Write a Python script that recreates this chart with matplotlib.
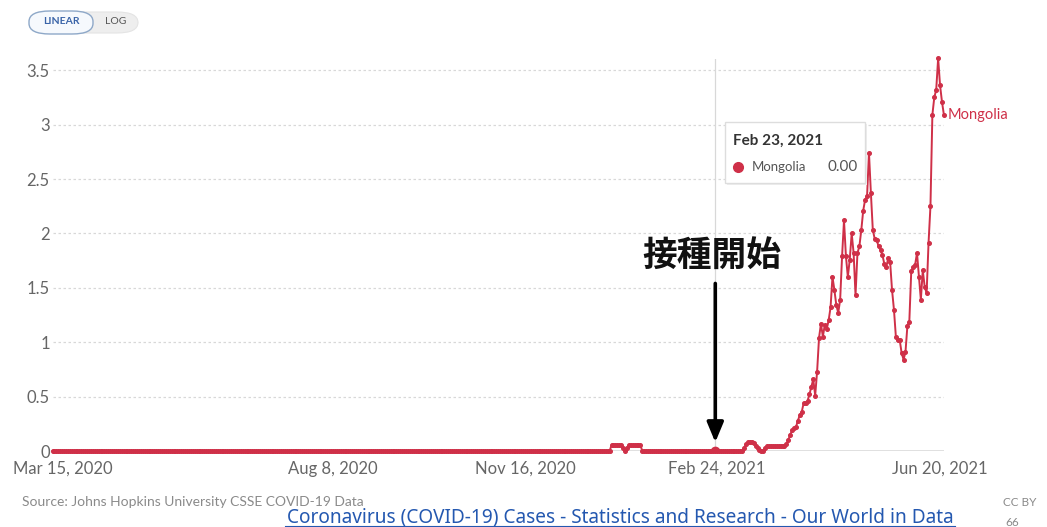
import numpy as np
import matplotlib
matplotlib.use('Agg')
import matplotlib.pyplot as plt
from matplotlib.patches import FancyBboxPatch, Rectangle
from matplotlib.lines import Line2D
from matplotlib.transforms import ScaledTranslation

W, H = 1047, 527

# daily new cases per million, Mongolia (7-day avg)
start_date = '2020-03-15'
zeros_early = [0.0] * 291
bump_dec = [0.055, 0.055, 0.055, 0.055, 0.055, 0.055, 0.03, 0.0,
            0.03, 0.055, 0.055, 0.055, 0.055, 0.055, 0.055, 0.055]
zeros_mid = [0.0] * 53
bump_mar = [0.03, 0.06, 0.08, 0.085, 0.085, 0.07, 0.05, 0.03, 0.01, 0.0, 0.0, 0.03]
plateau = [0.045, 0.045, 0.045, 0.045, 0.045, 0.045, 0.045, 0.045, 0.045, 0.045]
wave = [0.06, 0.10, 0.15, 0.19, 0.21, 0.22, 0.28, 0.33, 0.36, 0.44,
        0.44, 0.46, 0.52, 0.59, 0.66, 0.51, 0.73, 1.04, 1.17, 1.05,
        1.16, 1.12, 1.20, 1.32, 1.60, 1.48, 1.34, 1.27, 1.39, 1.79,
        2.12, 1.79, 1.60, 1.76, 2.00, 1.82, 1.43, 1.82, 1.88, 2.03,
        2.21, 2.31, 2.34, 2.74, 2.37, 2.03, 1.95, 1.94, 1.88, 1.85,
        1.80, 1.72, 1.69, 1.77, 1.74, 1.48, 1.30, 1.05, 1.02, 1.02,
        0.90, 0.84, 0.91, 1.15, 1.19, 1.65, 1.69, 1.71, 1.82, 1.60,
        1.39, 1.66, 1.51, 1.45, 1.91, 2.25, 3.09, 3.25, 3.32, 3.61,
        3.36, 3.21, 3.09]
cases = zeros_early + bump_dec + zeros_mid + bump_mar + plateau + wave
dates = np.datetime64(start_date) + np.arange(len(cases))

tick_dates = np.array(['2020-03-15', '2020-08-08', '2020-11-16', '2021-02-24', '2021-06-20'],
                      dtype='datetime64[D]')
tick_labels = ['Mar 15, 2020', 'Aug 8, 2020', 'Nov 16, 2020', 'Feb 24, 2021', 'Jun 20, 2021']
y_ticks = [0, 0.5, 1, 1.5, 2, 2.5, 3, 3.5]
y_labels = ['0', '0.5', '1', '1.5', '2', '2.5', '3', '3.5']
hover_date = np.datetime64('2021-02-23')
hover_value = '0.00'
country = 'Mongolia'

RED = '#cf3048'
plt.rcParams['font.family'] = ['Lato', 'DejaVu Sans']


def px(x, y):
    return x / W, 1 - y / H


fig = plt.figure(figsize=(W / 100, H / 100), dpi=100)
ax = fig.add_axes([52.5 / W, (H - 451) / H, (943.9 - 52.5) / W, 3.6 * 108.8 / H])

ax.set_xlim(np.datetime64('2020-03-15'), np.datetime64('2021-06-22'))
ax.set_ylim(0, 3.6)
for s in ax.spines.values():
    s.set_visible(False)

for yv in y_ticks[1:]:
    ax.axhline(yv, color='#d8d8d8', lw=0.9, ls=(0, (2, 2)), zorder=0)
ax.axhline(0, color='#dddddd', lw=2, zorder=1)

ax.axvline(hover_date, color='#d8d8d8', lw=0.9, zorder=1)

ax.plot(dates, cases, color=RED, lw=1.4, marker='o', ms=2.6,
        clip_on=False, zorder=3)
ax.plot([hover_date], [0], 'o', color=RED, ms=6, zorder=4)

ax.text(dates[-1], cases[-1], country, color=RED, fontsize=10.5,
        va='center', ha='left', transform=ax.transData + ScaledTranslation(4 / 100, 0, fig.dpi_scale_trans))

ax.set_yticks(y_ticks)
ax.set_yticklabels(y_labels)
ax.set_xticks(tick_dates)
ax.set_xticklabels(tick_labels)
ax.tick_params(axis='both', length=0, labelsize=12, labelcolor='#666666')
ax.tick_params(axis='x', pad=7)
ax.tick_params(axis='y', pad=2)
first = ax.get_xticklabels()[0]
first.set_transform(first.get_transform() + ScaledTranslation(10 / 100, 0, fig.dpi_scale_trans))

# vaccination start annotation
ax.annotate('', xy=(hover_date, 0.08), xytext=(hover_date, 1.54),
            arrowprops=dict(arrowstyle='-|>,head_length=0.6,head_width=0.25',
                            lw=2.6, color='black', mutation_scale=20,
                            shrinkA=0, shrinkB=0), zorder=5)
ax.text(hover_date - np.timedelta64(2, 'D'), 1.80, '接種開始', fontsize=25,
        fontweight='bold', ha='center', va='center',
        family=['Noto Sans CJK JP', 'DejaVu Sans'], color='#111111')

# tooltip
fig.add_artist(Rectangle(px(727, 185), 140 / W, 61 / H, transform=fig.transFigure,
                         fc='#eeeeee', ec='none', zorder=6))
fig.add_artist(Rectangle(px(725, 183), 140 / W, 61 / H, transform=fig.transFigure,
                         fc='white', ec='#dddddd', lw=1, zorder=7))
fig.text(*px(733, 141), 'Feb 23, 2021', fontsize=11, fontweight='bold',
         color='#333333', va='center', zorder=8)
fig.add_artist(Line2D([738 / W], [1 - 167 / H], marker='o', ms=7, color=RED,
                      transform=fig.transFigure, zorder=8))
fig.text(*px(752, 167), country, fontsize=9.5, color='#555555', va='center', zorder=8)
fig.text(*px(858, 167), hover_value, fontsize=11, color='#555555', va='center',
         ha='right', zorder=8)

# LINEAR / LOG toggle
fig.add_artist(FancyBboxPatch(px(30, 33), 108 / W, 21 / H, transform=fig.transFigure,
                              boxstyle='round,pad=0,rounding_size=0.02',
                              fc='#eeeeee', ec='#e4e4e4', lw=0.8))
fig.add_artist(FancyBboxPatch(px(29, 34), 64 / W, 23 / H, transform=fig.transFigure,
                              boxstyle='round,pad=0,rounding_size=0.02',
                              fc='#f6f9fd', ec='#8ea8c8', lw=1))
fig.text(*px(61, 22), 'LINEAR', fontsize=7.5, fontweight='bold', color='#3a64a8',
         ha='center', va='center')
fig.text(*px(116, 22), 'LOG', fontsize=7.5, color='#555555', ha='center', va='center')

# footer
fig.text(*px(22, 502), 'Source: Johns Hopkins University CSSE COVID-19 Data',
         fontsize=10, color='#8a8a8a', va='center')
fig.text(*px(620, 517), 'Coronavirus (COVID-19) Cases - Statistics and Research - Our World in Data',
         fontsize=13.7, color='#2458b0', ha='center', va='center',
         family=['Noto Sans', 'DejaVu Sans'])
fig.add_artist(Line2D([285 / W, 955 / W], [1 - 526 / H, 1 - 526 / H], color='#2458b0',
                      lw=0.8, transform=fig.transFigure))
fig.text(*px(1003, 503), 'CC BY', fontsize=8.5, color='#8a8a8a', va='center')
fig.text(*px(1005, 522), '66', fontsize=8.5, color='#8a8a8a', va='center')

fig.savefig('out.png', dpi=100)
